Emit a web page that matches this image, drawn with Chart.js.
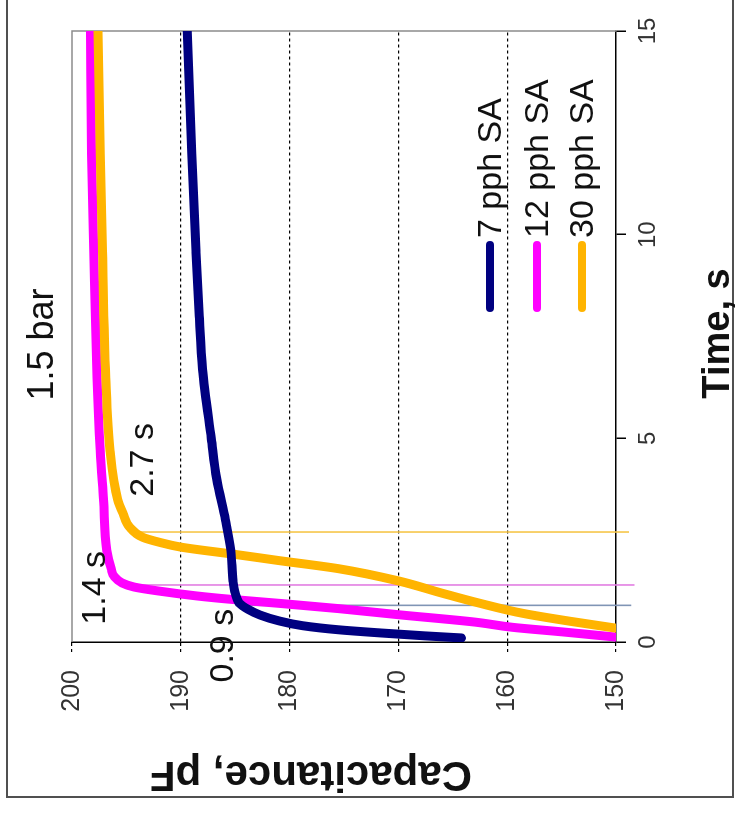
<!DOCTYPE html>
<html lang="en">
<head>
<meta charset="UTF-8">
<title>Capacitance vs time, 1.5 bar</title>
<script src="https://cdn.jsdelivr.net/npm/chart.js@4"></script>
<style>
  html, body { margin: 0; padding: 0; background: #fff; overflow: hidden; }
  /* the chart is laid out landscape, then turned a quarter turn to the left */
  #wrap {
    position: absolute; left: 0; top: 0;
    width: 830px; height: 736px;
    transform-origin: 0 0;
    transform: translate(0, 830px) rotate(-90deg);
  }
</style>
</head>
<body>
<div id="wrap"><canvas id="chart" width="830" height="736"></canvas></div>
<script>
// Capacitance (pF) against time (s) for three SA loadings
const seriesNames = ['7 pph SA', '12 pph SA', '30 pph SA'];
const seriesColors = ['#000080', '#FF00FF', '#FFB400'];

const time7 = [0.10, 0.15, 0.22, 0.30, 0.40, 0.52, 0.66, 0.80, 0.95, 1.2, 1.5, 2.25, 3.0, 4.0, 5.0, 6.7, 8.0, 9.6, 12, 15];
const cap7  = [164.2, 167.5, 171.5, 175.5, 178.8, 181.0, 182.7, 183.8, 184.6, 185.0, 185.2, 185.4, 185.9, 186.7, 187.2, 188.0, 188.3, 188.6, 189.0, 189.4];

const time12 = [0.12, 0.25, 0.36, 0.49, 0.67, 0.82, 0.95, 1.05, 1.13, 1.25, 1.35, 1.45, 1.6, 1.8, 2.25, 3.5, 4.7, 6.5, 9.6, 12, 15];
const cap12  = [150, 155, 159.5, 163, 170, 175.5, 181, 185.5, 188.5, 192, 194.3, 195.4, 196.1, 196.4, 196.8, 197.1, 197.4, 197.7, 198.0, 198.2, 198.3];

const time30 = [0.34, 0.5, 0.7, 0.95, 1.2, 1.5, 1.8, 2.0, 2.15, 2.33, 2.45, 2.57, 2.82, 3.15, 3.5, 4.7, 6.5, 9.6, 12, 15];
const cap30  = [150, 154, 158.5, 162.5, 166, 170, 175.5, 181, 185, 190, 192, 193.5, 194.7, 195.3, 195.8, 196.5, 196.9, 197.2, 197.4, 197.6];

// response-time markers
const markerTimes  = [0.9, 1.4, 2.7];
const markerLabels = ['0.9 s', '1.4 s', '2.7 s'];
const markerTop    = [185.0, 195.6, 194.5];
const markerBottom = [148.6, 148.3, 148.8];
const markerColors = ['#8095b5', '#e27ee2', '#f6c64a'];
// where each marker caption sits: [time, capacitance]
const markerTextAt = [[-0.09, 185.2], [1.33, 197.0], [4.47, 192.6]];

const timeTicks = [0, 5, 10, 15];
const capTicks = [150, 160, 170, 180, 190, 200];

const FONT = "'Liberation Sans', Arial, sans-serif";

function pairs(xs, ys) {
  return xs.map((x, i) => ({ x: x, y: ys[i] }));
}

const curves = [[time7, cap7], [time12, cap12], [time30, cap30]].map((s, i) => ({
  label: seriesNames[i],
  data: pairs(s[0], s[1]),
  borderColor: seriesColors[i],
  borderWidth: 9,
  borderCapStyle: 'round',
  borderJoinStyle: 'round',
  cubicInterpolationMode: 'monotone',
  pointRadius: 0,
  order: i === 0 ? 0 : 3 - i
}));

const markers = markerTimes.map((t, i) => ({
  label: markerLabels[i],
  data: [{ x: t, y: markerTop[i] }, { x: t, y: markerBottom[i] }],
  borderColor: markerColors[i],
  borderWidth: 1.6,
  pointRadius: 0,
  tension: 0,
  clip: false,
  order: 5
}));

// frame, captions and legend drawn on top of the chart
const decorations = {
  id: 'decorations',
  beforeDatasetsDraw(chart) {
    const { ctx, chartArea: a } = chart;
    ctx.save();
    ctx.strokeStyle = '#8c8c8c';
    ctx.lineWidth = 1.5;
    ctx.beginPath();
    ctx.moveTo(a.left, a.top);
    ctx.lineTo(a.right, a.top);
    ctx.lineTo(a.right, a.bottom);
    ctx.stroke();
    ctx.restore();
  },
  afterDraw(chart) {
    const { ctx, chartArea: a, scales } = chart;
    const xs = scales.x, ys = scales.y;
    ctx.save();

    // outer border
    ctx.strokeStyle = '#505050';
    ctx.lineWidth = 2;
    ctx.strokeRect(33, 7, 830, 726);

    ctx.fillStyle = '#111';
    ctx.textAlign = 'center';
    ctx.textBaseline = 'alphabetic';

    // chart title
    ctx.font = '36px ' + FONT;
    ctx.fillText('1.5 bar', (a.left + a.right) / 2 - 8, 53);

    // marker captions
    ctx.font = '34px ' + FONT;
    markerLabels.forEach((txt, i) => {
      const p = markerTextAt[i];
      ctx.fillText(txt, xs.getPixelForValue(p[0]), ys.getPixelForValue(p[1]));
    });

    // axis titles
    ctx.font = 'bold 38px ' + FONT;
    ctx.fillText('Time, s', (a.left + a.right) / 2 + 3, 729);
    ctx.save();
    ctx.translate(68, 311);
    ctx.rotate(-Math.PI / 2);
    ctx.font = 'bold 42px ' + FONT;
    ctx.fillText('Capacitance, pF', 0, 0);
    ctx.restore();

    // legend
    ctx.font = '34px ' + FONT;
    ctx.textAlign = 'left';
    ctx.textBaseline = 'middle';
    ctx.lineCap = 'round';
    ctx.lineWidth = 8;
    const rows = [418, 465, 510];
    seriesNames.forEach((name, i) => {
      const y = a.top + rows[i];
      ctx.strokeStyle = seriesColors[i];
      ctx.beginPath();
      ctx.moveTo(a.left + 334, y);
      ctx.lineTo(a.left + 397, y);
      ctx.stroke();
      ctx.fillStyle = '#111';
      ctx.fillText(name, a.left + 404, y + 2);
    });
    ctx.restore();
  }
};

new Chart(document.getElementById('chart'), {
  type: 'line',
  data: { datasets: curves.concat(markers) },
  options: {
    responsive: false,
    animation: false,
    layout: { padding: { top: 72, right: 31, bottom: 0, left: 0 } },
    plugins: { legend: { display: false }, tooltip: { enabled: false } },
    scales: {
      x: {
        type: 'linear',
        min: 0,
        max: 15,
        afterFit: s => { s.height = 120; },
        afterBuildTicks: s => { s.ticks = timeTicks.map(v => ({ value: v })); },
        ticks: { color: '#333', font: { family: FONT, size: 24 }, padding: 8, maxRotation: 0 },
        grid: { drawOnChartArea: false, tickLength: 10, color: '#000', tickColor: '#000', lineWidth: 1.5 },
        border: { color: '#000', width: 1.5 }
      },
      y: {
        type: 'linear',
        min: 150,
        max: 200,
        afterFit: s => { s.width = 188; },
        afterBuildTicks: s => { s.ticks = capTicks.map(v => ({ value: v })); },
        ticks: { color: '#333', font: { family: FONT, size: 25 }, padding: 18 },
        grid: {
          tickLength: 10,
          lineWidth: 1.2,
          color: c => (c.tick && (c.tick.value === 200 || c.tick.value === 150)) ? 'rgba(0,0,0,0)' : '#000',
          tickColor: '#000',
          tickBorderDash: [3, 3]
        },
        border: { color: '#000', width: 1.5, dash: [3, 3] }
      }
    }
  },
  plugins: [decorations]
});
</script>
</body>
</html>
